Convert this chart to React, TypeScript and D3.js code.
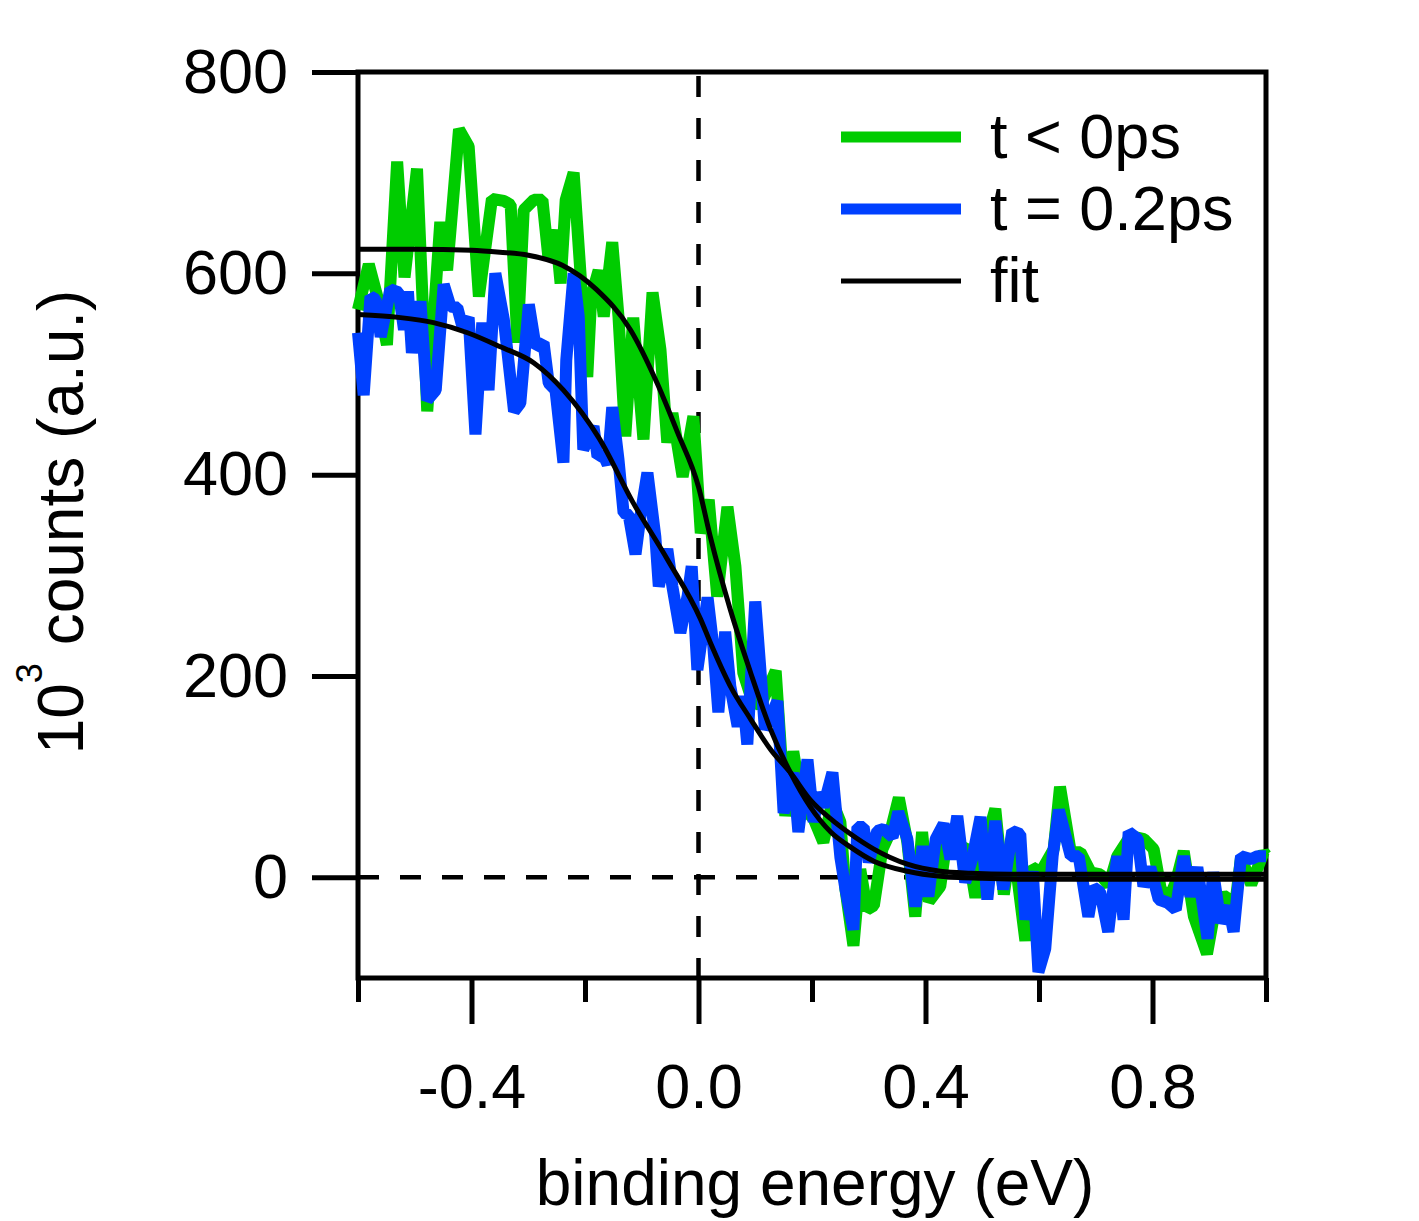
import React, { useRef, useEffect } from 'react';
import * as d3 from 'd3';

// t < 0ps spectrum, [binding energy (eV), 10^3 counts]
const greenData = [
  [-0.6, 564], [-0.581, 609], [-0.566, 577], [-0.549, 529], [-0.531, 711], [-0.518, 596],
  [-0.496, 704], [-0.478, 463], [-0.455, 651], [-0.443, 603], [-0.422, 743], [-0.405, 726],
  [-0.387, 577], [-0.364, 674], [-0.343, 672], [-0.331, 668], [-0.319, 531], [-0.308, 663],
  [-0.29, 673], [-0.275, 673], [-0.264, 613], [-0.252, 643], [-0.243, 590], [-0.234, 673],
  [-0.22, 700], [-0.204, 567], [-0.196, 497], [-0.189, 577], [-0.176, 603], [-0.167, 557],
  [-0.152, 631], [-0.141, 557], [-0.129, 438], [-0.115, 556], [-0.097, 435], [-0.081, 581],
  [-0.067, 524], [-0.055, 432], [-0.046, 461], [-0.028, 398], [-0.009, 458], [0.004, 342],
  [0.018, 375], [0.033, 279], [0.051, 368], [0.065, 309], [0.079, 203], [0.092, 180],
  [0.109, 170], [0.136, 205], [0.153, 61], [0.167, 125], [0.183, 70], [0.203, 58],
  [0.22, 35], [0.236, 75], [0.25, 55], [0.259, -12], [0.273, -68], [0.285, 8],
  [0.297, -32], [0.309, -28], [0.324, 28], [0.338, 45], [0.353, 79], [0.368, 35],
  [0.382, -39], [0.394, 45], [0.406, -24], [0.426, -9], [0.438, 40], [0.456, 25],
  [0.473, 31], [0.488, -20], [0.503, 28], [0.523, 68], [0.538, -17], [0.553, 40],
  [0.576, -63], [0.588, 10], [0.603, 5], [0.626, 28], [0.637, 90], [0.656, 25],
  [0.673, 25], [0.691, 5], [0.708, 3], [0.723, -8], [0.738, 21], [0.761, 41],
  [0.785, 38], [0.802, 28], [0.814, -10], [0.826, -25], [0.841, -5], [0.855, 26],
  [0.873, -39], [0.896, -76], [0.914, -20], [0.932, -19], [0.943, -40], [0.956, 20],
  [0.974, -7], [0.996, 25], [1.0, 22],
];

// t = 0.2ps spectrum
const blueData = [
  [-0.6, 541], [-0.59, 479], [-0.578, 577], [-0.569, 574], [-0.56, 537], [-0.543, 584],
  [-0.528, 581], [-0.519, 544], [-0.512, 582], [-0.505, 521], [-0.49, 572], [-0.478, 474],
  [-0.463, 484], [-0.449, 589], [-0.437, 567], [-0.425, 566], [-0.416, 547], [-0.405, 556],
  [-0.393, 440], [-0.381, 551], [-0.37, 484], [-0.358, 600], [-0.343, 554], [-0.325, 463],
  [-0.314, 471], [-0.299, 569], [-0.287, 527], [-0.273, 531], [-0.264, 491], [-0.252, 484],
  [-0.238, 412], [-0.233, 514], [-0.22, 600], [-0.211, 557], [-0.203, 425], [-0.185, 448],
  [-0.178, 418], [-0.168, 420], [-0.16, 410], [-0.152, 467], [-0.141, 415], [-0.132, 362],
  [-0.123, 360], [-0.111, 321], [-0.102, 360], [-0.09, 402], [-0.076, 338], [-0.07, 289],
  [-0.055, 326], [-0.046, 289], [-0.032, 243], [-0.019, 280], [-0.012, 309], [-0.002, 206],
  [0.016, 278], [0.026, 230], [0.035, 164], [0.047, 244], [0.056, 190], [0.069, 150],
  [0.078, 180], [0.086, 132], [0.1, 274], [0.117, 147], [0.139, 175], [0.15, 64],
  [0.167, 104], [0.176, 45], [0.192, 117], [0.203, 55], [0.211, 84], [0.22, 70],
  [0.236, 104], [0.25, 20], [0.259, -12], [0.273, -52], [0.28, 50], [0.291, 50],
  [0.3, 15], [0.315, 46], [0.326, 48], [0.342, 40], [0.352, 65], [0.368, 38],
  [0.382, -29], [0.395, 31], [0.405, -19], [0.418, 38], [0.432, 53], [0.444, 18],
  [0.456, 61], [0.47, -5], [0.483, 20], [0.497, 60], [0.509, -22], [0.523, 56],
  [0.537, -12], [0.553, 46], [0.567, 43], [0.576, -42], [0.589, 6], [0.599, -94],
  [0.611, -71], [0.624, 21], [0.635, 67], [0.656, 21], [0.67, 21], [0.687, -39],
  [0.696, -10], [0.708, -15], [0.722, -54], [0.738, 21], [0.749, -42], [0.758, 45],
  [0.774, 38], [0.784, -9], [0.796, 10], [0.811, -22], [0.826, -25], [0.841, -32],
  [0.855, 21], [0.867, -19], [0.879, 10], [0.897, -61], [0.907, 5], [0.92, -45],
  [0.934, -29], [0.943, -54], [0.956, 21], [0.974, 18], [0.985, 21], [1.0, 21],
];

// fit curves, sampled off the plot
const greenFit = [
  [-0.6, 624], [-0.5, 624], [-0.4, 623], [-0.35, 621], [-0.3, 618], [-0.24, 608],
  [-0.18, 584], [-0.12, 544], [-0.073, 491], [-0.037, 442], [0, 388], [0.021, 338],
  [0.056, 266], [0.092, 203], [0.127, 147], [0.162, 104], [0.197, 70], [0.233, 45],
  [0.268, 30], [0.309, 16], [0.368, 6], [0.426, 1], [0.5, -1], [0.6, -2], [1.0, -2],
];
const blueFit = [
  [-0.6, 559], [-0.525, 556], [-0.467, 551], [-0.407, 541], [-0.349, 527], [-0.29, 511],
  [-0.238, 484], [-0.175, 436], [-0.115, 372], [-0.055, 316], [0.004, 256], [0.021, 233],
  [0.056, 190], [0.092, 157], [0.127, 127], [0.162, 104], [0.197, 77], [0.233, 58],
  [0.268, 43], [0.309, 28], [0.368, 13], [0.426, 6], [0.48, 4], [0.55, 3], [0.65, 3], [1.0, 3],
];

const yTicks = [0, 200, 400, 600, 800];
const xMajorTicks = [-0.4, 0, 0.4, 0.8];
const xMinorTicks = [-0.6, -0.2, 0.2, 0.6, 1.0];
const legendItems = [
  { label: 't < 0ps', color: '#00cc00', width: 11 },
  { label: 't = 0.2ps', color: '#0040ff', width: 11 },
  { label: 'fit', color: '#000', width: 5 },
];

const FONT = '"Liberation Sans", Arial, Helvetica, sans-serif';

const App = () => {
  const svgRef = useRef(null);

  useEffect(() => {
    const svg = d3.select(svgRef.current);
    svg.selectAll('*').remove();
    const width = 1419;
    const height = 1221;
    const margin = { top: 72, right: 153, bottom: 243, left: 358 };

    svg.attr('width', width).attr('height', height).attr('viewBox', [0, 0, width, height]);

    const x = d3.scaleLinear().domain([-0.6, 1.0]).range([margin.left, width - margin.right]);
    const y = d3.scaleLinear().domain([-100, 800]).range([height - margin.bottom, margin.top]);

    // dashed zero lines
    svg.append('line')
      .attr('x1', x(0)).attr('x2', x(0)).attr('y1', y(800) + 4).attr('y2', y(-100))
      .attr('stroke', '#000').attr('stroke-width', 4.5).attr('stroke-dasharray', '21 21');
    svg.append('line')
      .attr('x1', x(-0.6)).attr('x2', x(1.0)).attr('y1', y(0)).attr('y2', y(0))
      .attr('stroke', '#000').attr('stroke-width', 4.5).attr('stroke-dasharray', '21 21');

    // frame
    svg.append('rect')
      .attr('x', x(-0.6)).attr('y', y(800))
      .attr('width', x(1.0) - x(-0.6)).attr('height', y(-100) - y(800))
      .attr('fill', 'none').attr('stroke', '#000').attr('stroke-width', 5);

    const styleAxis = g => {
      g.select('.domain').remove();
      g.selectAll('.tick line').attr('stroke-width', 5);
      g.selectAll('.tick text').attr('font-family', FONT).attr('font-size', 63).attr('fill', '#000');
    };

    svg.append('g')
      .attr('transform', `translate(${x(-0.6)},0)`)
      .call(d3.axisLeft(y).tickValues(yTicks).tickSize(46).tickPadding(24).tickFormat(d3.format('d')))
      .call(styleAxis);

    svg.append('g')
      .attr('transform', `translate(0,${y(-100)})`)
      .call(d3.axisBottom(x).tickValues(xMajorTicks).tickSize(46).tickPadding(39).tickFormat(d => d.toFixed(1)))
      .call(styleAxis);

    svg.append('g')
      .attr('transform', `translate(0,${y(-100)})`)
      .call(d3.axisBottom(x).tickValues(xMinorTicks).tickSize(24).tickFormat(() => ''))
      .call(styleAxis);

    // data
    const line = d3.line().x(d => x(d[0])).y(d => y(d[1]));
    const fitLine = d3.line().x(d => x(d[0])).y(d => y(d[1])).curve(d3.curveMonotoneX);

    svg.append('path').datum(greenData)
      .attr('d', line).attr('fill', 'none').attr('stroke', '#00cc00')
      .attr('stroke-width', 12).attr('stroke-linejoin', 'bevel');
    svg.append('path').datum(blueData)
      .attr('d', line).attr('fill', 'none').attr('stroke', '#0040ff')
      .attr('stroke-width', 12).attr('stroke-linejoin', 'bevel');

    [greenFit, blueFit].forEach(f => {
      svg.append('path').datum(f)
        .attr('d', fitLine).attr('fill', 'none').attr('stroke', '#000').attr('stroke-width', 5);
    });

    // legend
    const legend = svg.append('g');
    legendItems.forEach((item, i) => {
      const ly = 137 + i * 72;
      legend.append('line')
        .attr('x1', 841).attr('x2', 961).attr('y1', ly).attr('y2', ly)
        .attr('stroke', item.color).attr('stroke-width', item.width);
      legend.append('text')
        .attr('x', 990).attr('y', ly + 21)
        .attr('font-family', FONT).attr('font-size', 63)
        .text(item.label);
    });

    // axis titles
    svg.append('text')
      .attr('x', 815).attr('y', 1205)
      .attr('text-anchor', 'middle')
      .attr('font-family', FONT).attr('font-size', 64)
      .text('binding energy (eV)');

    const yTitle = svg.append('text')
      .attr('transform', 'translate(83,522) rotate(-90)')
      .attr('text-anchor', 'middle')
      .attr('font-family', FONT).attr('font-size', 64);
    yTitle.append('tspan').text('10');
    yTitle.append('tspan').attr('dy', -41).attr('font-size', 36).text('3');
    yTitle.append('tspan').attr('dy', 41).text(' counts (a.u.)');
  }, []);

  return (
    <svg ref={svgRef} style={{ position: 'absolute', left: 0, top: 0, background: '#fff' }}></svg>
  );
};

export default App;
